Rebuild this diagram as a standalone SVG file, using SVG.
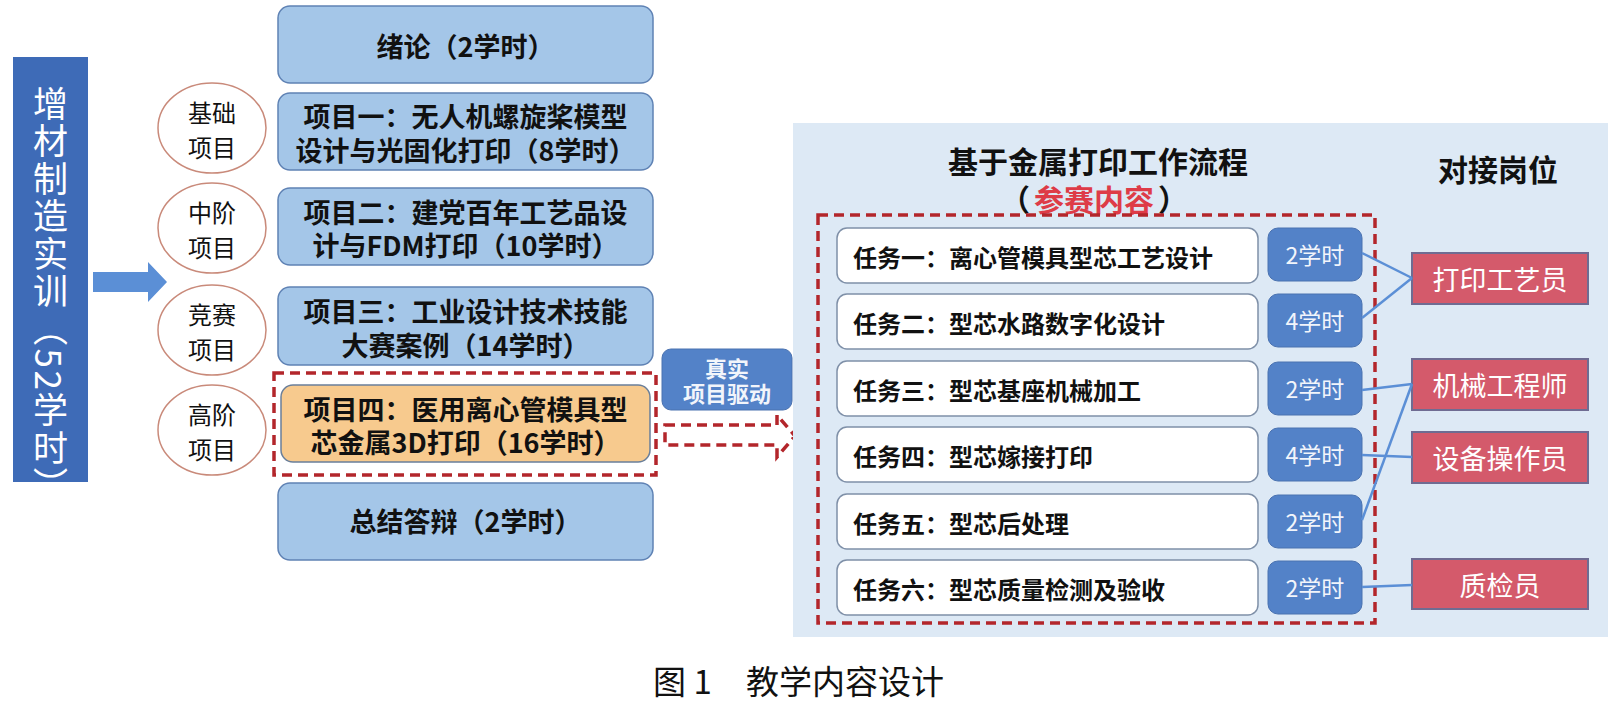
<svg xmlns="http://www.w3.org/2000/svg" width="1619" height="703" viewBox="0 0 1619 703">
<style>
text{font-family:"Noto Sans CJK SC","Noto Sans",sans-serif;}
.lbox{fill:#a4c6e8;stroke:#5f82b4;stroke-width:1.5;}
.obox{fill:#f7ca8e;stroke:#6a7f9a;stroke-width:1.5;}
.lt{font-size:27px;font-weight:700;fill:#111;text-anchor:middle;dominant-baseline:central;}
.circ{fill:#fff;stroke:#c98a7a;stroke-width:1.5;}
.ct{font-size:24px;fill:#111;text-anchor:middle;dominant-baseline:central;}
.dash{fill:none;stroke:#b3262b;stroke-width:3.5;stroke-dasharray:10 6;}
.task{fill:#fff;stroke:#7f90a8;stroke-width:1.5;}
.tt{font-size:24px;font-weight:700;fill:#111;dominant-baseline:central;}
.hour{fill:#5382c8;stroke:#4a72b0;stroke-width:1;}
.ht{font-size:23px;fill:#f2f5fb;text-anchor:middle;dominant-baseline:central;}
.role{fill:#d45a6b;stroke:#6f6c92;stroke-width:2;}
.rt{font-size:27px;fill:#fff;text-anchor:middle;dominant-baseline:central;}
.h1{font-size:30px;font-weight:700;fill:#111;text-anchor:middle;dominant-baseline:central;}
.conn{stroke:#5b8fd6;stroke-width:2.5;fill:none;}
</style>
<rect x="0" y="0" width="1619" height="703" fill="#fff"/>
<g id="bar">
<rect x="13" y="57" width="75" height="425" fill="#3e6bb7"/>
<text x="50.5" y="86" font-size="35" fill="#fff" letter-spacing="2.5" style="writing-mode:vertical-rl;text-orientation:mixed;">增材制造实训（52学时）</text>
</g>
<g id="main-arrow">
<polygon points="93,272 148,272 148,262 167,282 148,302 148,292 93,292" fill="#5b8fd6"/>
</g>
<g id="c1"><ellipse class="circ" cx="212" cy="128" rx="54" ry="45"/><text class="ct" x="212" y="111">基础<tspan x="212" dy="35">项目</tspan></text></g>
<g id="c2"><ellipse class="circ" cx="212" cy="228" rx="54" ry="45"/><text class="ct" x="212" y="211">中阶<tspan x="212" dy="35">项目</tspan></text></g>
<g id="c3"><ellipse class="circ" cx="212" cy="330" rx="54" ry="45"/><text class="ct" x="212" y="313">竞赛<tspan x="212" dy="35">项目</tspan></text></g>
<g id="c4"><ellipse class="circ" cx="212" cy="430" rx="54" ry="45"/><text class="ct" x="212" y="413">高阶<tspan x="212" dy="35">项目</tspan></text></g>
<g id="b0"><rect class="lbox" x="278" y="6" width="375" height="77" rx="12"/><text class="lt" x="465.5" y="45">绪论（2学时）</text></g>
<g id="b1"><rect class="lbox" x="278" y="93" width="375" height="77" rx="12"/><text class="lt" x="465.5" y="115">项目一：无人机螺旋桨模型<tspan x="465.5" dy="34">设计与光固化打印（8学时）</tspan></text></g>
<g id="b2"><rect class="lbox" x="278" y="188" width="375" height="77" rx="12"/><text class="lt" x="465.5" y="211">项目二：建党百年工艺品设<tspan x="465.5" dy="33">计与FDM打印（10学时）</tspan></text></g>
<g id="b3"><rect class="lbox" x="278" y="287" width="375" height="78" rx="12"/><text class="lt" x="465.5" y="310">项目三：工业设计技术技能<tspan x="465.5" dy="34">大赛案例（14学时）</tspan></text></g>
<g id="b4"><rect class="dash" x="274" y="373" width="382" height="102"/><rect class="obox" x="281" y="385" width="369" height="77" rx="12"/><text class="lt" x="465.5" y="408">项目四：医用离心管模具型<tspan x="465.5" dy="33">芯金属3D打印（16学时）</tspan></text></g>
<g id="b5"><rect class="lbox" x="278" y="483" width="375" height="77" rx="12"/><text class="lt" x="465.5" y="520">总结答辩（2学时）</text></g>
<g id="drive"><rect x="662" y="349" width="130" height="61" rx="9" fill="#5382c8" stroke="#4a72b0"/><text x="727" y="367" font-size="22" font-weight="700" fill="#f2f5fb" text-anchor="middle" dominant-baseline="central">真实<tspan x="727" dy="25">项目驱动</tspan></text></g>
<g id="dash-arrow"><path class="dash" d="M665,425 L777,425 L777,415 L795,436 L777,457 L777,445 L665,445 Z" stroke-width="3"/></g>
<g id="panel">
<rect x="793" y="123" width="815" height="514" fill="#dde9f5"/>
<text class="h1" x="1098" y="160">基于金属打印工作流程</text>
<text class="h1" x="1094" y="198" font-size="28">（<tspan dx="4" fill="#de3b47">参赛内容</tspan><tspan dx="4">）</tspan></text>
<text class="h1" x="1498" y="168">对接岗位</text>
<rect class="dash" x="818" y="215" width="557" height="408"/>
</g>
<g id="t1"><rect class="task" x="837" y="228" width="421" height="55" rx="10"/><text class="tt" x="853" y="256">任务一：离心管模具型芯工艺设计</text></g>
<g id="t2"><rect class="task" x="837" y="294" width="421" height="55" rx="10"/><text class="tt" x="853" y="322">任务二：型芯水路数字化设计</text></g>
<g id="t3"><rect class="task" x="837" y="361" width="421" height="55" rx="10"/><text class="tt" x="853" y="389">任务三：型芯基座机械加工</text></g>
<g id="t4"><rect class="task" x="837" y="427" width="421" height="55" rx="10"/><text class="tt" x="853" y="455">任务四：型芯嫁接打印</text></g>
<g id="t5"><rect class="task" x="837" y="494" width="421" height="55" rx="10"/><text class="tt" x="853" y="522">任务五：型芯后处理</text></g>
<g id="t6"><rect class="task" x="837" y="560" width="421" height="55" rx="10"/><text class="tt" x="853" y="588">任务六：型芯质量检测及验收</text></g>
<g id="h1"><rect class="hour" x="1268" y="228" width="94" height="53" rx="10"/><text class="ht" x="1315" y="254">2学时</text></g>
<g id="h2"><rect class="hour" x="1268" y="294" width="94" height="53" rx="10"/><text class="ht" x="1315" y="320">4学时</text></g>
<g id="h3"><rect class="hour" x="1268" y="362" width="94" height="53" rx="10"/><text class="ht" x="1315" y="388">2学时</text></g>
<g id="h4"><rect class="hour" x="1268" y="428" width="94" height="53" rx="10"/><text class="ht" x="1315" y="454">4学时</text></g>
<g id="h5"><rect class="hour" x="1268" y="495" width="94" height="53" rx="10"/><text class="ht" x="1315" y="521">2学时</text></g>
<g id="h6"><rect class="hour" x="1268" y="561" width="94" height="53" rx="10"/><text class="ht" x="1315" y="587">2学时</text></g>
<g id="r1"><rect class="role" x="1412" y="253" width="176" height="51"/><text class="rt" x="1500" y="278">打印工艺员</text></g>
<g id="r2"><rect class="role" x="1412" y="359" width="176" height="51"/><text class="rt" x="1500" y="384">机械工程师</text></g>
<g id="r3"><rect class="role" x="1412" y="432" width="176" height="51"/><text class="rt" x="1500" y="457">设备操作员</text></g>
<g id="r4"><rect class="role" x="1412" y="559" width="176" height="50"/><text class="rt" x="1500" y="584">质检员</text></g>
<g id="connectors">
<line class="conn" x1="1362" y1="253" x2="1412" y2="278"/>
<line class="conn" x1="1362" y1="318" x2="1412" y2="278"/>
<line class="conn" x1="1362" y1="390" x2="1412" y2="384"/>
<line class="conn" x1="1362" y1="520" x2="1412" y2="384"/>
<line class="conn" x1="1362" y1="455" x2="1412" y2="457"/>
<line class="conn" x1="1362" y1="587" x2="1412" y2="585"/>
</g>
<g id="caption"><text x="653" y="680" font-size="33" fill="#111" dominant-baseline="central">图 1<tspan x="746">教学内容设计</tspan></text></g>
</svg>
